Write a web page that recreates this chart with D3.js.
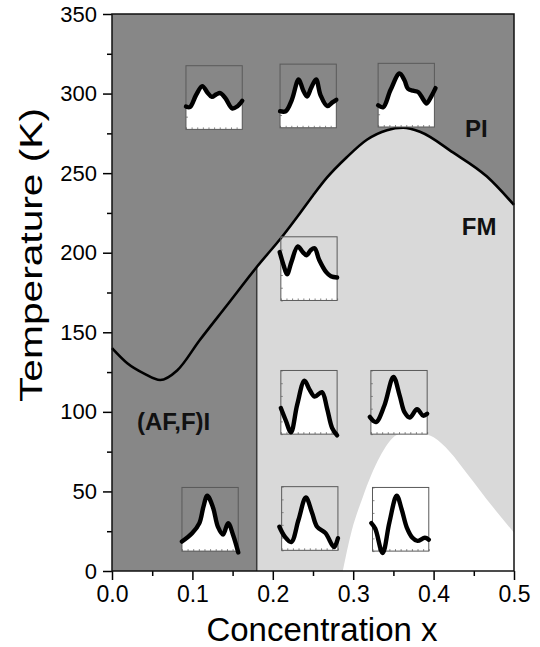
<!DOCTYPE html>
<html>
<head>
<meta charset="utf-8">
<script src="https://cdn.jsdelivr.net/npm/d3@7"></script>
<style>
  body { margin: 0; background: #fff; }
  svg text { font-family: "Liberation Sans", Arial, Helvetica, sans-serif; }
</style>
</head>
<body>
<svg id="chart" width="540" height="647"></svg>
<script>
// Phase diagram -- temperature vs concentration x

// insulator / FM transition line
var tcX = [0, 0.019, 0.04, 0.06, 0.081, 0.109, 0.143, 0.18, 0.213, 0.234, 0.25, 0.267, 0.292, 0.317, 0.342, 0.362, 0.383, 0.424, 0.466, 0.5];
var tcT = [140, 130.5, 124, 120, 126, 145, 167, 191, 211, 225, 236, 247, 260, 271, 277, 278.5, 276, 263, 248, 230];

// low temperature dome (white)
var domeX = [0.287, 0.298, 0.312, 0.333, 0.354, 0.37, 0.385, 0.40, 0.42, 0.441, 0.474, 0.5];
var domeT = [0, 25, 46.5, 71.6, 85.5, 87.5, 86.5, 84, 75, 61.6, 40, 24];

// (AF,F)I | FM border
var borderX = 0.18;

var xTicks = [0, 0.1, 0.2, 0.3, 0.4, 0.5];
var xMinor = [0.05, 0.15, 0.25, 0.35, 0.45];
var tTicks = [0, 50, 100, 150, 200, 250, 300, 350];
var tMinor = [25, 75, 125, 175, 225, 275, 325];

var phaseNames = ["PI", "FM", "(AF,F)I"];
var phaseX = [0.439, 0.435, 0.031];
var phaseT = [272.7, 211, 88.6];

// small spectra: centre of each inset (x, T) and its curve (u across, v up, both 0..1)
var insetX = [0.127, 0.244, 0.366, 0.245, 0.245, 0.357, 0.122, 0.246, 0.359];
var insetT = [297.5, 298.5, 299, 190, 106, 106, 32.5, 33, 32.5];
var insetCurves = [
  [[0,0.36],[0.07,0.35],[0.18,0.54],[0.29,0.68],[0.38,0.58],[0.46,0.51],[0.54,0.55],[0.61,0.57],[0.70,0.49],[0.82,0.33],[0.91,0.36],[1,0.45]],
  [[0,0.26],[0.10,0.26],[0.21,0.44],[0.33,0.76],[0.41,0.59],[0.48,0.49],[0.55,0.62],[0.64,0.76],[0.72,0.51],[0.84,0.34],[0.93,0.40],[1,0.44]],
  [[0,0.34],[0.09,0.31],[0.22,0.58],[0.38,0.84],[0.47,0.73],[0.53,0.60],[0.62,0.57],[0.71,0.55],[0.79,0.45],[0.86,0.37],[0.95,0.49],[1.02,0.61]],
  [[-0.02,0.76],[0.05,0.55],[0.11,0.41],[0.19,0.61],[0.30,0.85],[0.39,0.76],[0.46,0.71],[0.53,0.79],[0.60,0.82],[0.68,0.64],[0.81,0.44],[0.89,0.38],[1,0.36]],
  [[0,0.41],[0.09,0.21],[0.18,0.03],[0.29,0.46],[0.42,0.84],[0.51,0.70],[0.60,0.59],[0.73,0.66],[0.82,0.41],[0.91,0.10],[1,-0.02]],
  [[-0.02,0.27],[0.09,0.19],[0.24,0.45],[0.40,0.90],[0.51,0.61],[0.60,0.34],[0.69,0.26],[0.82,0.39],[0.93,0.29],[1,0.32]],
  [[0,0.15],[0.18,0.28],[0.31,0.44],[0.38,0.69],[0.45,0.87],[0.55,0.69],[0.64,0.38],[0.73,0.26],[0.82,0.44],[0.91,0.25],[1,-0.02]],
  [[-0.04,0.37],[0.06,0.21],[0.17,0.13],[0.30,0.48],[0.43,0.83],[0.54,0.59],[0.63,0.37],[0.78,0.27],[0.93,0.05],[1,0.19]],
  [[-0.02,0.44],[0.05,0.35],[0.18,-0.03],[0.30,0.45],[0.43,0.87],[0.52,0.65],[0.61,0.37],[0.71,0.21],[0.80,0.16],[0.93,0.21],[1,0.18]]
];

///////////////////////////////////////////////////////////////////////////////
// layout

var DARK = "#878787", LIGHT = "#d9d9d9";
var margin = { left: 112, top: 14, right: 26, bottom: 76 };
var width = 540 - margin.left - margin.right;
var height = 647 - margin.top - margin.bottom;

var svg = d3.select("#chart");
var g = svg.append("g")
  .attr("transform", "translate(" + margin.left + "," + margin.top + ")");

var x = d3.scaleLinear().domain([0, 0.5]).range([0, width]);
var y = d3.scaleLinear().domain([0, 350]).range([height, 0]);

var tcPts = d3.zip(tcX, tcT);
var domePts = d3.zip(domeX, domeT);

var defs = svg.append("defs");
defs.append("clipPath").attr("id", "fmClip")
  .append("rect")
  .attr("x", x(borderX)).attr("y", 0)
  .attr("width", width - x(borderX)).attr("height", height);

// background = insulating phases
g.append("rect").attr("width", width).attr("height", height).attr("fill", DARK);

// FM region under the line, right of the border
var underCurve = d3.area()
  .curve(d3.curveMonotoneX)
  .x(function (d) { return x(d[0]); })
  .y0(y(0))
  .y1(function (d) { return y(d[1]); });

g.append("path")
  .datum(tcPts)
  .attr("d", underCurve)
  .attr("fill", LIGHT)
  .attr("clip-path", "url(#fmClip)");

g.append("path")
  .datum(domePts)
  .attr("d", underCurve)
  .attr("fill", "#fff");

// border line
g.append("line")
  .attr("x1", x(borderX)).attr("x2", x(borderX))
  .attr("y1", y(0)).attr("y2", y(tcT[tcX.indexOf(borderX)]))
  .attr("stroke", "#3a3a3a")
  .attr("stroke-width", 1.5);

// transition line
var line = d3.line()
  .curve(d3.curveMonotoneX)
  .x(function (d) { return x(d[0]); })
  .y(function (d) { return y(d[1]); });

g.append("path")
  .datum(tcPts)
  .attr("d", line)
  .attr("fill", "none")
  .attr("stroke", "#000")
  .attr("stroke-width", 2.6)
  .attr("stroke-linejoin", "round");

///////////////////////////////////////////////////////////////////////////////
// insets

var insetW = 0.07, insetH = 40;   // data units

insetCurves.forEach(function (curve, i) {
  var left = x(insetX[i] - insetW / 2);
  var top = y(insetT[i] + insetH / 2);
  var w = x(insetW) - x(0);
  var h = y(0) - y(insetH);

  var u = d3.scaleLinear().domain([0, 1]).range([0, w]);
  var v = d3.scaleLinear().domain([0, 1]).range([h, 0]);

  var ig = g.append("g").attr("transform", "translate(" + left + "," + top + ")");

  // clip is in the inset's own coordinates
  defs.append("clipPath").attr("id", "inset" + i)
    .append("rect").attr("width", w).attr("height", h);

  ig.append("path")
    .datum(curve)
    .attr("d", d3.area()
      .curve(d3.curveCatmullRom)
      .x(function (d) { return u(d[0]); })
      .y0(h)
      .y1(function (d) { return v(d[1]); }))
    .attr("fill", "#fff")
    .attr("clip-path", "url(#inset" + i + ")");

  // tiny inner ticks
  ig.append("g")
    .attr("transform", "translate(0," + h + ")")
    .call(d3.axisBottom(u).ticks(8).tickSize(-2).tickFormat(""))
    .call(function (a) { a.select(".domain").remove(); a.selectAll("line").attr("stroke", "#888"); });
  ig.append("g")
    .call(d3.axisLeft(v).ticks(6).tickSize(-2).tickFormat(""))
    .call(function (a) { a.select(".domain").remove(); a.selectAll("line").attr("stroke", "#888"); });

  ig.append("rect")
    .attr("width", w).attr("height", h)
    .attr("fill", "none")
    .attr("stroke", "#5a5a5a")
    .attr("stroke-width", 1);

  ig.append("path")
    .datum(curve)
    .attr("d", d3.line()
      .curve(d3.curveCatmullRom)
      .x(function (d) { return u(d[0]); })
      .y(function (d) { return v(d[1]); }))
    .attr("fill", "none")
    .attr("stroke", "#000")
    .attr("stroke-width", 4.4)
    .attr("stroke-linecap", "round")
    .attr("stroke-linejoin", "round");
});

///////////////////////////////////////////////////////////////////////////////
// phase labels

phaseNames.forEach(function (name, i) {
  g.append("text")
    .attr("x", x(phaseX[i]))
    .attr("y", y(phaseT[i]))
    .attr("font-size", 24)
    .attr("font-weight", "bold")
    .attr("fill", "#111")
    .text(name);
});

///////////////////////////////////////////////////////////////////////////////
// axes

var styleAxis = function (a, fontSize) {
  a.select(".domain").remove();
  a.selectAll("line").attr("stroke", "#000").attr("stroke-width", 1.5);
  a.selectAll("text").attr("font-size", fontSize).attr("fill", "#000");
};

g.append("g")
  .attr("transform", "translate(0," + height + ")")
  .call(d3.axisBottom(x).tickValues(xTicks).tickFormat(d3.format(".1f"))
    .tickSize(9).tickSizeOuter(0).tickPadding(6))
  .call(styleAxis, 23);

g.append("g")
  .attr("transform", "translate(0," + height + ")")
  .call(d3.axisBottom(x).tickValues(xMinor).tickFormat("").tickSize(5).tickSizeOuter(0))
  .call(styleAxis, 0);

g.append("g")
  .call(d3.axisLeft(y).tickValues(tTicks).tickSize(9).tickSizeOuter(0).tickPadding(6))
  .call(styleAxis, 22);

g.append("g")
  .call(d3.axisLeft(y).tickValues(tMinor).tickFormat("").tickSize(5).tickSizeOuter(0))
  .call(styleAxis, 0);

// frame
g.append("rect")
  .attr("width", width).attr("height", height)
  .attr("fill", "none")
  .attr("stroke", "#111")
  .attr("stroke-width", 1.5);

svg.append("text")
  .attr("x", 322)
  .attr("y", 641)
  .attr("text-anchor", "middle")
  .attr("font-size", 33)
  .text("Concentration x");

svg.append("text")
  .attr("transform", "translate(42,255) rotate(-90)")
  .attr("text-anchor", "middle")
  .attr("font-size", 31)
  .attr("textLength", 294)
  .attr("lengthAdjust", "spacingAndGlyphs")
  .text("Temperature (K)");
</script>
</body>
</html>
